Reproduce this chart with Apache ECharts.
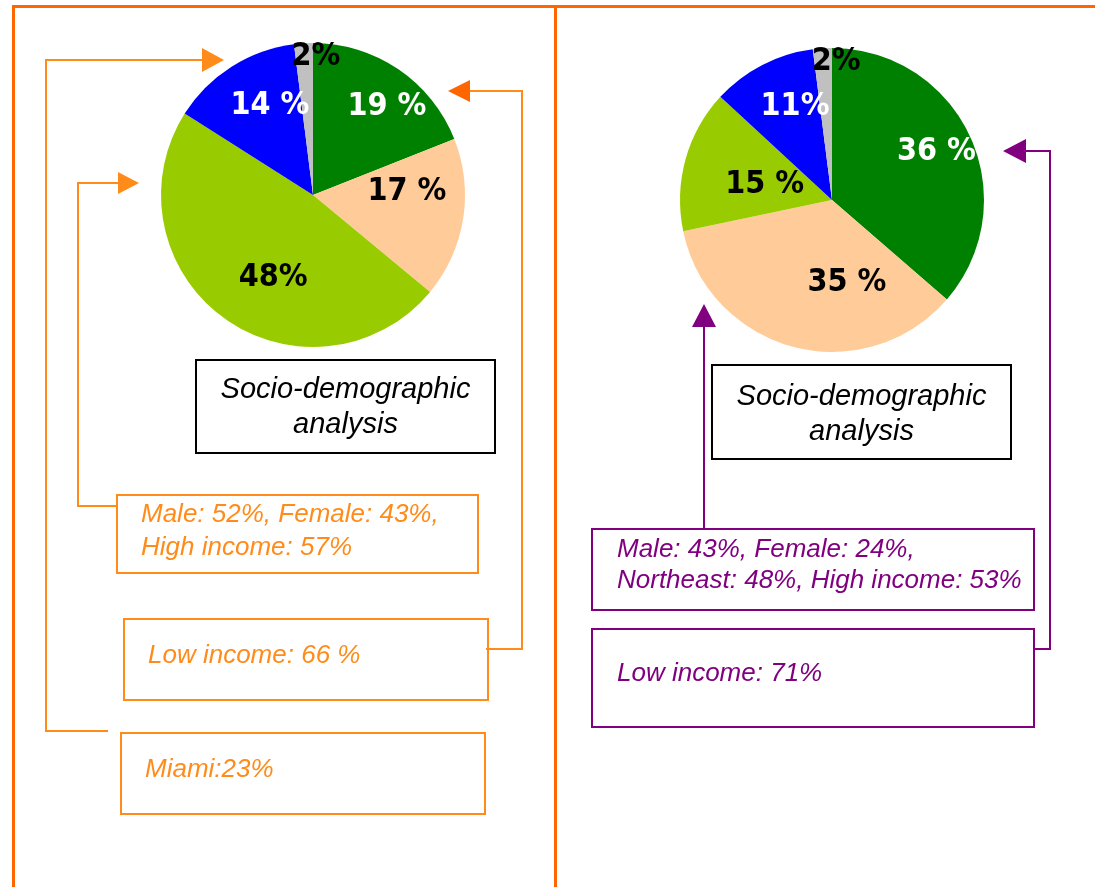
<!DOCTYPE html>
<html>
<head>
<meta charset="utf-8">
<script src="https://cdn.jsdelivr.net/npm/echarts@6/dist/echarts.min.js"></script>
<style>
  html, body { margin: 0; padding: 0; background: #ffffff; }
  #chart { width: 1095px; height: 887px; }
</style>
</head>
<body>
<div id="chart"></div>
<script>
// ---- data ----
const segments = ['Segment 1', 'Segment 2', 'Segment 3', 'Segment 4', 'Other'];
const leftValues = [19, 17, 48, 14, 2];
const rightValues = [36, 35, 15, 11, 2];
// unit text printed after each value
const leftUnits = [' %', ' %', '%', ' %', '%'];
const rightUnits = [' %', ' %', ' %', '%', '%'];

const boxTitle = 'Socio-demographic\nanalysis';
const leftNotes = ['Male: 52%, Female: 43%,\nHigh income: 57%', 'Low income: 66 %', 'Miami:23%'];
const rightNotes = ['Male: 43%, Female: 24%,\nNortheast: 48%, High income: 53%', 'Low income: 71%'];

// ---- styles & layout ----
const sliceColors = ['#008000', '#FFCC99', '#99CC00', '#0000FF', '#C0C0C0'];
const labelColors = ['#ffffff', '#000000', '#000000', '#ffffff', '#000000'];
const ORANGE = '#FF8C1A';
const ORANGE_DARK = '#FF6600';
const PURPLE = '#800080';
const R = 152;
const leftPie = { cx: 313, cy: 195 };
const rightPie = { cx: 832, cy: 200 };
// label placement: [fraction of radius, angle in degrees clockwise from 12 o'clock]
const leftLabelPlace = [[0.757, 40], [0.618, 88], [0.605, 205.7], [0.651, 334.2], [0.908, 1.2]];
const rightLabelPlace = [[0.757, 65.2], [0.553, 169.8], [0.454, 282.6], [0.658, 338.3], [0.908, 1.7]];

function pieSeries(values, units, pie, place) {
  return {
    type: 'pie',
    center: [pie.cx, pie.cy],
    radius: [0, R],
    startAngle: 90,
    clockwise: true,
    silent: true,
    avoidLabelOverlap: false,
    itemStyle: { borderWidth: 0 },
    label: {
      show: true,
      position: 'inside',
      fontFamily: '"DejaVu Sans Condensed", "DejaVu Sans", sans-serif',
      fontWeight: 'bold',
      fontSize: 32,
      formatter: p => p.value + units[p.dataIndex]
    },
    labelLine: { show: false },
    labelLayout: p => {
      const [f, a] = place[p.dataIndex];
      const rad = a * Math.PI / 180;
      return { x: pie.cx + f * R * Math.sin(rad), y: pie.cy - f * R * Math.cos(rad) };
    },
    data: values.map((v, i) => ({
      name: segments[i],
      value: v,
      itemStyle: { color: sliceColors[i] },
      label: { color: labelColors[i] }
    }))
  };
}

function box(x, y, w, h, color) {
  return { type: 'rect', shape: { x, y, width: w, height: h },
           style: { fill: 'none', stroke: color, lineWidth: 2 }, silent: true };
}
function note(text, x, y, color, lineHeight, align) {
  return { type: 'text', x, y, silent: true,
           style: { text, fill: color, fontFamily: 'Liberation Sans, Arial, sans-serif',
                    fontStyle: 'italic', fontSize: align === 'center' ? 29 : 26,
                    lineHeight, align: align || 'left', verticalAlign: 'middle' } };
}
function path(points, color, width) {
  return { type: 'polyline', shape: { points }, silent: true,
           style: { stroke: color, lineWidth: width || 2, fill: 'none' } };
}
function arrow(points, color) {
  return { type: 'polygon', shape: { points }, silent: true,
           style: { fill: color, stroke: 'none' } };
}

const graphics = [
  // panel frame
  path([[13.5, 887], [13.5, 6.5], [1095, 6.5]], ORANGE_DARK, 3),
  path([[555.5, 6.5], [555.5, 887]], ORANGE_DARK, 3),

  // left panel
  box(196, 360, 299, 93, '#000000'),
  note(boxTitle, 345.5, 407.5, '#000000', 35, 'center'),
  box(117, 495, 361, 78, ORANGE),
  note(leftNotes[0], 141, 531.5, ORANGE, 33),
  box(124, 619, 364, 81, ORANGE),
  note(leftNotes[1], 148, 656, ORANGE, 30),
  box(121, 733, 364, 81, ORANGE),
  note(leftNotes[2], 145, 770, ORANGE, 30),

  path([[117, 506], [78, 506], [78, 183], [118, 183]], ORANGE),
  arrow([[118, 172], [139, 183], [118, 194]], ORANGE),
  path([[486, 649], [522, 649], [522, 91], [470, 91]], ORANGE),
  arrow([[470, 80], [448, 91], [470, 102]], ORANGE_DARK),
  path([[108, 731], [46, 731], [46, 60], [202, 60]], ORANGE),
  arrow([[202, 48], [224, 60], [202, 72]], ORANGE),

  // right panel
  box(712, 365, 299, 94, '#000000'),
  note(boxTitle, 861.5, 414.5, '#000000', 35, 'center'),
  box(592, 529, 442, 81, PURPLE),
  note(rightNotes[0], 617, 565.5, PURPLE, 31),
  box(592, 629, 442, 98, PURPLE),
  note(rightNotes[1], 617, 674, PURPLE, 30),

  path([[704, 529], [704, 326]], PURPLE),
  arrow([[692, 327], [704, 304], [716, 327]], PURPLE),
  path([[1034, 649], [1050, 649], [1050, 151], [1026, 151]], PURPLE),
  arrow([[1026, 139], [1003, 151], [1026, 163]], PURPLE)
];

const chart = echarts.init(document.getElementById('chart'), null, { renderer: 'canvas' });
chart.setOption({
  animation: false,
  backgroundColor: '#ffffff',
  series: [
    pieSeries(leftValues, leftUnits, leftPie, leftLabelPlace),
    pieSeries(rightValues, rightUnits, rightPie, rightLabelPlace)
  ],
  graphic: graphics
});
</script>
</body>
</html>
